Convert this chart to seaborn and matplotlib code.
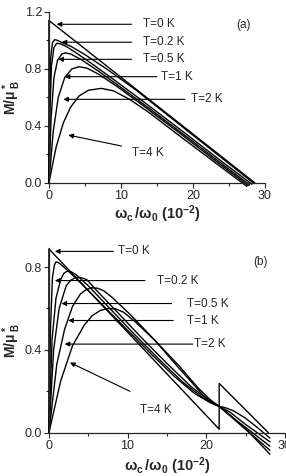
import numpy as np
import pandas as pd
import matplotlib
matplotlib.use('Agg')
import matplotlib.pyplot as plt
import seaborn as sns
from matplotlib.ticker import MultipleLocator

# Data, panel (a)
temps = ['T=0 K', 'T=0.2 K', 'T=0.5 K', 'T=1 K', 'T=2 K', 'T=4 K']

a_x = {
    'T=0 K': [0, 0, 28.6],
    'T=0.2 K': [0, 0.1, 0.25, 0.5, 0.8, 1.2, 2, 3, 5, 8, 12, 18, 24, 28.5],
    'T=0.5 K': [0, 0.15, 0.35, 0.7, 1.1, 1.6, 2.5, 4, 6, 9, 13, 19, 24, 28.2],
    'T=1 K': [0, 0.3, 0.7, 1.2, 1.8, 2.3, 3, 4.5, 7, 10, 14, 20, 24.5, 27.9],
    'T=2 K': [0, 0.6, 1.3, 2.2, 3.2, 4.2, 5.3, 7, 9.5, 13, 18, 23, 27.7],
    'T=4 K': [0, 1, 2, 3, 4.2, 5.5, 7.3, 9, 11.25, 14, 18, 23, 27.5],
}
a_y = {
    'T=0 K': [0, 1.14, 0],
    'T=0.2 K': [0, 0.55, 0.88, 0.985, 1.005, 1.0, 0.98, 0.96, 0.90, 0.80, 0.655, 0.415, 0.175, -0.005],
    'T=0.5 K': [0, 0.5, 0.82, 0.95, 0.98, 0.975, 0.955, 0.905, 0.835, 0.725, 0.575, 0.345, 0.15, -0.01],
    'T=1 K': [0, 0.45, 0.74, 0.86, 0.905, 0.912, 0.905, 0.865, 0.78, 0.67, 0.52, 0.29, 0.115, -0.015],
    'T=2 K': [0, 0.36, 0.6, 0.74, 0.8, 0.815, 0.805, 0.76, 0.675, 0.545, 0.355, 0.16, -0.02],
    'T=4 K': [0, 0.25, 0.42, 0.53, 0.61, 0.65, 0.663, 0.645, 0.585, 0.49, 0.335, 0.145, -0.025],
}

# Data, panel (b)
b_x = {
    'T=0 K': [0, 0, 21.65, 21.65, 27.9],
    'T=0.2 K': [0, 0.2, 0.45, 0.7, 0.9, 1.2, 1.6, 2.5, 4, 7, 10, 13, 16, 18.5, 20.5, 21.65, 23, 25.5, 28.1],
    'T=0.5 K': [0, 0.4, 0.9, 1.5, 1.9, 2.3, 2.8, 3.4, 5, 8, 11, 14, 17, 19.5, 21.65, 24, 28.1],
    'T=1 K': [0, 0.6, 1.3, 2.2, 2.8, 3.4, 4.0, 4.8, 6, 9, 12, 15, 18, 20, 21.65, 24, 28.1],
    'T=2 K': [0, 1, 2, 3, 4, 4.7, 5.4, 6.2, 7, 8, 10.5, 13.5, 16.5, 19, 20.5, 21.65, 23, 25, 28.1],
    'T=4 K': [0, 1.5, 3, 4.5, 5.5, 6.5, 7.5, 8.5, 9.5, 11, 13.5, 16, 18, 19.5, 20.7, 21.65, 22.5, 23.5, 25, 26.5, 28.1],
}
b_y = {
    'T=0 K': [0, 0.888, 0.017, 0.238, 0.0],
    'T=0.2 K': [0, 0.5, 0.75, 0.81, 0.825, 0.822, 0.81, 0.78, 0.725, 0.61, 0.495, 0.38, 0.27, 0.19, 0.145, 0.127, 0.085, 0.0, -0.104],
    'T=0.5 K': [0, 0.45, 0.65, 0.74, 0.77, 0.78, 0.778, 0.765, 0.71, 0.59, 0.47, 0.355, 0.245, 0.17, 0.127, 0.05, -0.085],
    'T=1 K': [0, 0.4, 0.6, 0.71, 0.737, 0.75, 0.75, 0.74, 0.69, 0.57, 0.45, 0.335, 0.225, 0.165, 0.127, 0.055, -0.065],
    'T=2 K': [0, 0.33, 0.5, 0.61, 0.67, 0.69, 0.70, 0.698, 0.685, 0.655, 0.565, 0.445, 0.325, 0.215, 0.16, 0.127, 0.1, 0.04, -0.044],
    'T=4 K': [0, 0.25, 0.42, 0.52, 0.565, 0.59, 0.60, 0.598, 0.582, 0.535, 0.445, 0.335, 0.25, 0.185, 0.145, 0.127, 0.12, 0.105, 0.07, 0.025, -0.026],
}

# label arrows: (tail x, tail y, head x, head y, text x, text y)
a_labels = {
    'T=0 K': (11.5, 1.113, 1.07, 1.113, 13.1, 1.113),
    'T=0.2 K': (11.5, 0.987, 1.76, 0.987, 13.1, 0.987),
    'T=0.5 K': (11.5, 0.867, 1.3, 0.867, 13.1, 0.867),
    'T=1 K': (15.0, 0.745, 2.2, 0.745, 15.6, 0.745),
    'T=2 K': (18.9, 0.586, 2.0, 0.586, 19.8, 0.586),
    'T=4 K': (10.1, 0.258, 2.7, 0.335, 11.5, 0.21),
}
b_labels = {
    'T=0 K': (8.2, 0.876, 0.76, 0.876, 8.8, 0.876),
    'T=0.2 K': (12.2, 0.735, 0.76, 0.735, 13.7, 0.735),
    'T=0.5 K': (15.6, 0.624, 1.6, 0.624, 17.5, 0.624),
    'T=1 K': (15.8, 0.542, 2.45, 0.542, 17.5, 0.542),
    'T=2 K': (18.3, 0.428, 2.0, 0.428, 18.4, 0.428),
    'T=4 K': (10.3, 0.20, 2.67, 0.339, 11.6, 0.11),
}

sns.set_style('ticks')
plt.rcParams['font.family'] = ['Liberation Sans', 'DejaVu Sans']
plt.rcParams['mathtext.fontset'] = 'custom'
plt.rcParams['mathtext.rm'] = 'Liberation Sans:bold'
plt.rcParams['mathtext.it'] = 'Liberation Sans:bold'
plt.rcParams['mathtext.bf'] = 'Liberation Sans:bold'

fig = plt.figure(figsize=(2.86, 4.76), dpi=100)
ax1 = fig.add_axes([0.171, 0.616, 0.755, 0.359])
ax2 = fig.add_axes([0.171, 0.091, 0.825, 0.387])


def draw(ax, xs, ys, labels, ymax, tag, tagpos, ylab_x, xpad):
    for t in temps:
        sns.lineplot(x=xs[t], y=ys[t], ax=ax, color='black', lw=1.0,
                     sort=False, estimator=None, clip_on=False)
    for t, (tx, ty, hx, hy, lx, ly) in labels.items():
        ax.annotate('', xy=(hx, hy), xytext=(tx, ty),
                    arrowprops=dict(arrowstyle='-|>', color='black', lw=0.8,
                                    mutation_scale=7, shrinkA=0, shrinkB=0))
        ax.text(lx, ly, t, fontsize=8.5, va='center', ha='left')
    ax.text(tagpos[0], tagpos[1], tag, fontsize=8.5, va='center', ha='left')
    ax.set_xlim(0, 30)
    ax.set_ylim(0, ymax)
    ax.xaxis.set_major_locator(MultipleLocator(10))
    ax.xaxis.set_minor_locator(MultipleLocator(5))
    ax.yaxis.set_major_locator(MultipleLocator(0.4))
    ax.yaxis.set_minor_locator(MultipleLocator(0.2))
    ax.yaxis.set_major_formatter(plt.FormatStrFormatter('%.1f'))
    ax.tick_params(which='major', direction='out', length=3.5, width=0.8, labelsize=9, pad=1.5)
    ax.tick_params(which='minor', direction='out', length=2, width=0.8)
    for s in ['left', 'bottom']:
        ax.spines[s].set_linewidth(0.9)
    sns.despine(ax=ax)
    ax.set_xlabel(r'$\omega_c\,/\omega_0$ (10$^{-2}$)', fontsize=10.5, fontweight='bold', labelpad=xpad)
    ax.set_ylabel(r'M/$\mu^*_{\ B}$', fontsize=10, fontweight='bold')
    ax.yaxis.set_label_coords(ylab_x, 0.5)


draw(ax1, a_x, a_y, a_labels, 1.2, '(a)', (26, 1.11), -0.118, 1.5)
draw(ax2, b_x, b_y, b_labels, 0.89, '(b)', (26, 0.827), -0.108, 3)

fig.savefig('out.png', dpi=100)
